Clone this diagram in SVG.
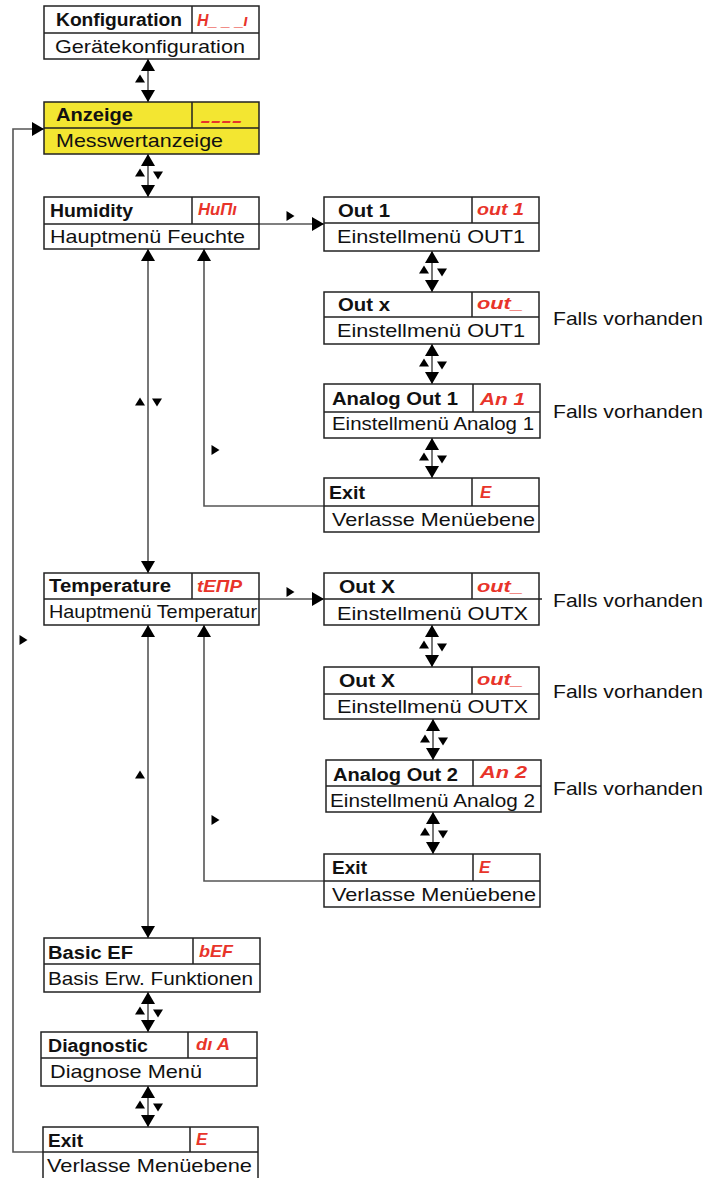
<svg xmlns="http://www.w3.org/2000/svg" xmlns:xlink="http://www.w3.org/1999/xlink" width="712" height="1178" viewBox="0 0 712 1178">
<style>
.box{fill:#fff;stroke:#222;stroke-width:1.5}
.yel{fill:#f3e631}
.div{stroke:#222;stroke-width:1.5;fill:none}
.lbl{font-family:"Liberation Sans",Arial,sans-serif;font-size:18px;font-weight:bold;fill:#111}
.sub{font-family:"Liberation Sans",Arial,sans-serif;font-size:18.5px;fill:#111}
.seg{font-family:"Liberation Sans",Arial,sans-serif;font-size:17px;font-style:italic;font-weight:bold;fill:#e8342a}
.falls{font-family:"Liberation Sans",Arial,sans-serif;font-size:18.5px;fill:#111}
.con{stroke:#555;stroke-width:1.6;fill:none}
.arr{marker-start:url(#ah);marker-end:url(#ah)}
.arre{marker-end:url(#ah)}
.arrs{marker-start:url(#ah)}
.tri{fill:#000}
</style>
<defs>
<marker id="ah" markerUnits="userSpaceOnUse" markerWidth="12" markerHeight="14" viewBox="0 0 12 14" refX="12" refY="7" orient="auto-start-reverse">
<path d="M0,0 L12,7 L0,14 z" fill="#000"/>
</marker>
<path id="su" d="M0,-4.5 L5,3.5 L-5,3.5 z"/>
<path id="sd" d="M0,4.5 L5,-3.5 L-5,-3.5 z"/>
<path id="sr" d="M4.5,0 L-3.5,-5 L-3.5,5 z"/>
</defs>

<g id="connectors">
<line class="con arr" x1="148" y1="59" x2="148" y2="102"/>
<use href="#su" class="tri" x="140" y="79"/>

<line class="con arr" x1="148" y1="154" x2="148" y2="197"/>
<use href="#su" class="tri" x="140" y="173"/>
<use href="#sd" class="tri" x="158" y="175"/>

<line class="con arr" x1="432" y1="251" x2="432" y2="292"/>
<use href="#su" class="tri" x="424" y="270"/>
<use href="#sd" class="tri" x="442" y="272"/>

<line class="con arr" x1="432" y1="344" x2="432" y2="384"/>
<use href="#su" class="tri" x="424" y="363"/>
<use href="#sd" class="tri" x="442" y="365"/>

<line class="con arr" x1="432" y1="438" x2="432" y2="478"/>
<use href="#su" class="tri" x="424" y="457"/>
<use href="#sd" class="tri" x="442" y="459"/>

<line class="con arr" x1="432" y1="625" x2="432" y2="667"/>
<use href="#su" class="tri" x="424" y="645"/>
<use href="#sd" class="tri" x="442" y="647"/>

<line class="con arr" x1="433" y1="719" x2="433" y2="760"/>
<use href="#su" class="tri" x="425" y="739"/>
<use href="#sd" class="tri" x="443" y="741"/>

<line class="con arr" x1="433" y1="812" x2="433" y2="854"/>
<use href="#su" class="tri" x="425" y="832"/>
<use href="#sd" class="tri" x="443" y="834"/>

<line class="con arr" x1="148" y1="992" x2="148" y2="1032"/>
<use href="#su" class="tri" x="140" y="1011"/>
<use href="#sd" class="tri" x="158" y="1013"/>

<line class="con arr" x1="148" y1="1086" x2="148" y2="1127"/>
<use href="#su" class="tri" x="140" y="1105"/>
<use href="#sd" class="tri" x="158" y="1107"/>

<path class="con arre" d="M259,224 H324"/>
<use href="#sr" class="tri" x="290" y="216"/>
<line class="con arr" x1="148" y1="249" x2="148" y2="573"/>
<use href="#su" class="tri" x="140" y="402"/>
<use href="#sd" class="tri" x="157" y="402"/>
<path class="con arrs" d="M204,249 V506 H324"/>
<use href="#sr" class="tri" x="215" y="450"/>

<path class="con arre" d="M259,599 H324"/>
<use href="#sr" class="tri" x="290" y="592"/>
<line class="con arr" x1="148" y1="625" x2="148" y2="938"/>
<use href="#su" class="tri" x="140" y="775"/>
<path class="con arrs" d="M204,625 V881 H324"/>
<use href="#sr" class="tri" x="215" y="820"/>

<path class="con arre" d="M43,1152 H13 V129 H44"/>
<use href="#sr" class="tri" x="23" y="640"/>
</g>

<g id="konfiguration">
<rect class="box" x="44" y="6" width="215" height="53"/>
<path class="div" d="M44,33 H259 M192,6 V33"/>
<text class="lbl" x="56" y="26" textLength="126" lengthAdjust="spacingAndGlyphs">Konfiguration</text>
<text class="seg" x="197" y="26" textLength="51" lengthAdjust="spacingAndGlyphs">H_ _ _ı</text>
<text class="sub" x="55" y="53" textLength="190" lengthAdjust="spacingAndGlyphs">Gerätekonfiguration</text>
</g>

<g id="anzeige">
<rect class="box yel" x="44" y="102" width="215" height="52"/>
<path class="div" d="M44,128 H259 M192,102 V128"/>
<text class="lbl" x="56" y="121" textLength="77" lengthAdjust="spacingAndGlyphs">Anzeige</text>
<text class="seg" x="200" y="126" textLength="42" lengthAdjust="spacingAndGlyphs">----</text>
<text class="sub" x="56" y="147" textLength="167" lengthAdjust="spacingAndGlyphs">Messwertanzeige</text>
</g>

<g id="humidity">
<rect class="box" x="44" y="197" width="215" height="52"/>
<path class="div" d="M44,224 H259 M192,197 V224"/>
<text class="lbl" x="50" y="217" textLength="83" lengthAdjust="spacingAndGlyphs">Humidity</text>
<text class="seg" x="198" y="215" textLength="39" lengthAdjust="spacingAndGlyphs">HuΠı</text>
<text class="sub" x="50" y="243" textLength="195" lengthAdjust="spacingAndGlyphs">Hauptmenü Feuchte</text>
</g>

<g id="out1">
<rect class="box" x="324" y="197" width="215" height="54"/>
<path class="div" d="M324,223 H539 M472,197 V223"/>
<text class="lbl" x="338" y="217" textLength="52" lengthAdjust="spacingAndGlyphs">Out 1</text>
<text class="seg" x="477" y="215" textLength="47" lengthAdjust="spacingAndGlyphs">out 1</text>
<text class="sub" x="337" y="243" textLength="188" lengthAdjust="spacingAndGlyphs">Einstellmenü OUT1</text>
</g>

<g id="outx">
<rect class="box" x="324" y="292" width="215" height="52"/>
<path class="div" d="M324,317 H539 M472,292 V317"/>
<text class="lbl" x="338" y="311" textLength="52" lengthAdjust="spacingAndGlyphs">Out x</text>
<text class="seg" x="477" y="309" textLength="46" lengthAdjust="spacingAndGlyphs">out_</text>
<text class="sub" x="337" y="337" textLength="188" lengthAdjust="spacingAndGlyphs">Einstellmenü OUT1</text>
<text class="falls" x="553" y="325" textLength="150" lengthAdjust="spacingAndGlyphs">Falls vorhanden</text>
</g>

<g id="analog1">
<rect class="box" x="324" y="384" width="216" height="54"/>
<path class="div" d="M324,412 H540 M473,384 V412"/>
<text class="lbl" x="332" y="405" textLength="126" lengthAdjust="spacingAndGlyphs">Analog Out 1</text>
<text class="seg" x="480" y="405" textLength="45" lengthAdjust="spacingAndGlyphs">An  1</text>
<text class="sub" x="332" y="430" textLength="202" lengthAdjust="spacingAndGlyphs">Einstellmenü Analog 1</text>
<text class="falls" x="553" y="418" textLength="150" lengthAdjust="spacingAndGlyphs">Falls vorhanden</text>
</g>

<g id="exit1">
<rect class="box" x="324" y="478" width="215" height="54"/>
<path class="div" d="M324,506 H539 M472,478 V506"/>
<text class="lbl" x="329" y="499" textLength="36" lengthAdjust="spacingAndGlyphs">Exit</text>
<text class="seg" x="480" y="498">E</text>
<text class="sub" x="332" y="526" textLength="203" lengthAdjust="spacingAndGlyphs">Verlasse Menüebene</text>
</g>

<g id="temperature">
<rect class="box" x="44" y="573" width="215" height="52"/>
<path class="div" d="M44,599 H259 M192,573 V599"/>
<text class="lbl" x="49" y="592" textLength="122" lengthAdjust="spacingAndGlyphs">Temperature</text>
<text class="seg" x="197" y="592" textLength="45" lengthAdjust="spacingAndGlyphs">tEΠP</text>
<text class="sub" x="49" y="618" textLength="208" lengthAdjust="spacingAndGlyphs">Hauptmenü Temperatur</text>
</g>

<g id="outX1">
<rect class="box" x="324" y="573" width="215" height="52"/>
<path class="div" d="M324,599 H542 M472,573 V599"/>
<text class="lbl" x="339" y="593" textLength="56" lengthAdjust="spacingAndGlyphs">Out X</text>
<text class="seg" x="477" y="592" textLength="46" lengthAdjust="spacingAndGlyphs">out_</text>
<text class="sub" x="337" y="620" textLength="191" lengthAdjust="spacingAndGlyphs">Einstellmenü OUTX</text>
<text class="falls" x="553" y="607" textLength="150" lengthAdjust="spacingAndGlyphs">Falls vorhanden</text>
</g>

<g id="outX2">
<rect class="box" x="324" y="667" width="215" height="52"/>
<path class="div" d="M324,694 H539 M472,667 V694"/>
<text class="lbl" x="339" y="687" textLength="56" lengthAdjust="spacingAndGlyphs">Out X</text>
<text class="seg" x="477" y="685" textLength="46" lengthAdjust="spacingAndGlyphs">out_</text>
<text class="sub" x="337" y="713" textLength="191" lengthAdjust="spacingAndGlyphs">Einstellmenü OUTX</text>
<text class="falls" x="553" y="698" textLength="150" lengthAdjust="spacingAndGlyphs">Falls vorhanden</text>
</g>

<g id="analog2">
<rect class="box" x="326" y="760" width="215" height="52"/>
<path class="div" d="M326,786 H541 M473,760 V786"/>
<text class="lbl" x="333" y="781" textLength="125" lengthAdjust="spacingAndGlyphs">Analog Out 2</text>
<text class="seg" x="480" y="778" textLength="47" lengthAdjust="spacingAndGlyphs">An  2</text>
<text class="sub" x="330" y="807" textLength="205" lengthAdjust="spacingAndGlyphs">Einstellmenü Analog 2</text>
<text class="falls" x="553" y="795" textLength="150" lengthAdjust="spacingAndGlyphs">Falls vorhanden</text>
</g>

<g id="exit2">
<rect class="box" x="324" y="854" width="216" height="53"/>
<path class="div" d="M324,881 H540 M473,854 V881"/>
<text class="lbl" x="332" y="874" textLength="35" lengthAdjust="spacingAndGlyphs">Exit</text>
<text class="seg" x="479" y="873">E</text>
<text class="sub" x="332" y="901" textLength="204" lengthAdjust="spacingAndGlyphs">Verlasse Menüebene</text>
</g>

<g id="basicef">
<rect class="box" x="44" y="938" width="216" height="54"/>
<path class="div" d="M44,964 H260 M193,938 V964"/>
<text class="lbl" x="48" y="959" textLength="85" lengthAdjust="spacingAndGlyphs">Basic EF</text>
<text class="seg" x="199" y="957" textLength="34" lengthAdjust="spacingAndGlyphs">bEF</text>
<text class="sub" x="48" y="985" textLength="205" lengthAdjust="spacingAndGlyphs">Basis Erw. Funktionen</text>
</g>

<g id="diagnostic">
<rect class="box" x="41" y="1032" width="216" height="54"/>
<path class="div" d="M41,1058 H257 M188,1032 V1058"/>
<text class="lbl" x="48" y="1052" textLength="100" lengthAdjust="spacingAndGlyphs">Diagnostic</text>
<text class="seg" x="196" y="1050" textLength="34" lengthAdjust="spacingAndGlyphs">dı A</text>
<text class="sub" x="50" y="1078" textLength="152" lengthAdjust="spacingAndGlyphs">Diagnose Menü</text>
</g>

<g id="exit3">
<rect class="box" x="43" y="1127" width="215" height="56"/>
<path class="div" d="M43,1152 H258 M190,1127 V1152"/>
<text class="lbl" x="48" y="1147" textLength="35" lengthAdjust="spacingAndGlyphs">Exit</text>
<text class="seg" x="196" y="1145">E</text>
<text class="sub" x="47" y="1172" textLength="205" lengthAdjust="spacingAndGlyphs">Verlasse Menüebene</text>
</g>
</svg>
